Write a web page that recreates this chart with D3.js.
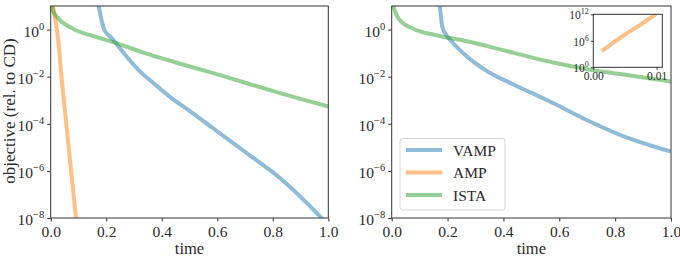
<!DOCTYPE html>
<html>
<head>
<meta charset="utf-8">
<script src="https://cdn.jsdelivr.net/npm/d3@7"></script>
<style>
  body { margin: 0; background: #fff; }
</style>
</head>
<body>
<div id="chart"></div>
<script>
// Data
const seriesNames = ['VAMP', 'AMP', 'ISTA'];
const seriesColors = ['#1f77b4', '#ff7f0e', '#2ca02c'];
const xTicks = [0, 0.2, 0.4, 0.6, 0.8, 1.0];
const yTicks = [1e-8, 1e-6, 1e-4, 1e-2, 1e0];

// left panel
const vampLeftT = [0.168, 0.193, 0.22, 0.268, 0.316, 0.376, 0.436, 0.5, 0.586, 0.707, 0.827, 0.971, 1.0];
const vampLeftV = [20, 0.977, 0.427, 0.0851, 0.0195, 4.68e-3, 1.2e-3, 3.55e-4, 6.3e-5, 5.6e-6, 4.9e-7, 1.15e-8, 5e-9];
const ampLeftT = [0.002, 0.009, 0.027, 0.04, 0.054, 0.091, 0.1];
const ampLeftV = [31.6, 9.5, 0.363, 7.2e-3, 1.74e-4, 1e-8, 1e-9];
const istaLeftT = [0, 0.004, 0.027, 0.076, 0.16, 0.22, 0.34, 0.466, 0.586, 0.707, 0.827, 1.0];
const istaLeftV = [12.6, 8.1, 3.0, 1.15, 0.5, 0.309, 0.1, 0.0355, 0.0141, 5.25e-3, 2.0e-3, 5.4e-4];

// right panel
const vampRightT = [0.17, 0.181, 0.191, 0.215, 0.262, 0.334, 0.43, 0.507, 0.579, 0.698, 0.817, 1.0];
const vampRightV = [20, 1.35, 0.708, 0.309, 0.0851, 0.0195, 5.0e-3, 1.9e-3, 7.4e-4, 1.45e-4, 3.4e-5, 6.6e-6];
const istaRightT = [0, 0.006, 0.024, 0.072, 0.155, 0.274, 0.394, 0.507, 0.579, 0.698, 0.817, 1.0];
const istaRightV = [15.8, 9.5, 3.0, 1.15, 0.589, 0.309, 0.138, 0.063, 0.0398, 0.0209, 0.0129, 6.2e-3];

// inset (AMP diverging, right panel)
const ampInsetT = [0.00133, 0.00316, 0.00528, 0.00738, 0.0099];
const ampInsetV = [4.9e3, 3.7e5, 5.0e7, 3.8e9, 1.15e12];
const insetXTicks = [0, 0.01];
const insetYTicks = [1e0, 1e6, 1e12];

const zip = (t, v) => t.map((d, i) => ({ t: d, v: v[i] }));

const font = '"Liberation Serif"';
const textColor = '#2a2a2a';
const frameColor = '#333';

const svg = d3.select('#chart').append('svg')
  .attr('width', 680)
  .attr('height', 261);

// "10" with a raised exponent
function powerLabel(text, d, supSize, supDy) {
  const e = Math.round(Math.log10(d));
  text.text(null);
  text.append('tspan').text('10');
  text.append('tspan')
    .attr('dy', supDy)
    .attr('font-size', supSize)
    .text(e < 0 ? `\u2212${-e}` : `${e}`);
}

function drawPanel(p) {
  const x = d3.scaleLinear([0, 1], [p.l, p.r]);
  const y = d3.scaleLog([1e-8, 1e1], [218, 6]);

  const g = svg.append('g');

  g.append('clipPath').attr('id', p.id)
    .append('rect')
    .attr('x', p.l).attr('y', 6)
    .attr('width', p.r - p.l).attr('height', 212);

  const line = d3.line()
    .x((d) => x(d.t))
    .y((d) => y(d.v))
    .curve(d3.curveMonotoneX);

  g.append('g')
    .attr('clip-path', `url(#${p.id})`)
    .selectAll('path')
    .data(p.series)
    .join('path')
    .attr('d', (d) => line(d.values))
    .attr('fill', 'none')
    .attr('stroke', (d) => d.color)
    .attr('stroke-opacity', 0.5)
    .attr('stroke-width', 4);

  // x axis
  const xAxis = g.append('g')
    .attr('transform', 'translate(0,218)')
    .call(d3.axisBottom(x).tickValues(xTicks).tickFormat(d3.format('.1f')).tickSize(3.5).tickPadding(3));
  xAxis.attr('font-size', 15.5);
  xAxis.select('.domain').remove();
  xAxis.selectAll('line').attr('stroke', frameColor);
  xAxis.selectAll('text').attr('fill', textColor).attr('dy', '0.78em');

  // y axis
  const yAxis = g.append('g')
    .attr('transform', `translate(${p.l},0)`)
    .call(d3.axisLeft(y).tickValues(yTicks).tickSize(3.5).tickPadding(3));
  yAxis.attr('font-size', 15.5);
  yAxis.select('.domain').remove();
  yAxis.selectAll('line').attr('stroke', frameColor);
  yAxis.selectAll('text')
    .attr('fill', textColor)
    .attr('dy', '0.42em')
    .each(function (d) { powerLabel(d3.select(this), d, 10.5, -7); });

  // frame
  g.append('rect')
    .attr('x', p.l).attr('y', 6)
    .attr('width', p.r - p.l).attr('height', 212)
    .attr('fill', 'none')
    .attr('stroke', frameColor)
    .attr('stroke-width', 1);

  // x-axis name
  g.append('text')
    .attr('x', (p.l + p.r) / 2)
    .attr('y', 254)
    .attr('text-anchor', 'middle')
    .attr('font-size', 16.5)
    .attr('fill', textColor)
    .text('time');

  return { x, y, g };
}

// left panel
drawPanel({
  id: 'clipL',
  l: 50.7,
  r: 328.3,
  series: [
    { name: seriesNames[0], color: seriesColors[0], values: zip(vampLeftT, vampLeftV) },
    { name: seriesNames[1], color: seriesColors[1], values: zip(ampLeftT, ampLeftV) },
    { name: seriesNames[2], color: seriesColors[2], values: zip(istaLeftT, istaLeftV) },
  ],
});

// y-axis name
svg.append('text')
  .attr('transform', 'translate(15,111)rotate(-90)')
  .attr('text-anchor', 'middle')
  .attr('font-size', 17)
  .attr('fill', textColor)
  .text('objective (rel. to CD)');

// right panel
drawPanel({
  id: 'clipR',
  l: 391.7,
  r: 671,
  series: [
    { name: seriesNames[0], color: seriesColors[0], values: zip(vampRightT, vampRightV) },
    { name: seriesNames[2], color: seriesColors[2], values: zip(istaRightT, istaRightV) },
  ],
});

// legend
const legend = svg.append('g');
legend.append('rect')
  .attr('x', 400).attr('y', 138.5)
  .attr('width', 105).attr('height', 71.5)
  .attr('rx', 3)
  .attr('fill', '#fff').attr('fill-opacity', 0.8)
  .attr('stroke', '#d5d5d5');

const legendRows = legend.selectAll('g.row')
  .data(seriesNames)
  .join('g')
  .attr('class', 'row')
  .attr('transform', (d, i) => `translate(0,${150 + i * 22.5})`);

legendRows.append('line')
  .attr('x1', 406).attr('x2', 442)
  .attr('stroke', (d, i) => seriesColors[i])
  .attr('stroke-opacity', 0.5)
  .attr('stroke-width', 4);

legendRows.append('text')
  .attr('x', 453)
  .attr('y', 5.5)
  .attr('font-size', 15.5)
  .attr('fill', textColor)
  .text((d) => d);

// inset
const ix = d3.scaleLinear([0, 0.0109], [593.3, 662.3]);
const iy = d3.scaleLog([1, 1e12], [67.3, 14.3]);
const inset = svg.append('g');

inset.append('rect')
  .attr('x', 593.3).attr('y', 14.3)
  .attr('width', 69).attr('height', 53)
  .attr('fill', '#fff');

inset.append('clipPath').attr('id', 'clipI')
  .append('rect')
  .attr('x', 593.3).attr('y', 14.3)
  .attr('width', 69).attr('height', 53);

inset.append('path')
  .datum(zip(ampInsetT, ampInsetV))
  .attr('clip-path', 'url(#clipI)')
  .attr('d', d3.line().x((d) => ix(d.t)).y((d) => iy(d.v)))
  .attr('fill', 'none')
  .attr('stroke', seriesColors[1])
  .attr('stroke-opacity', 0.5)
  .attr('stroke-width', 4);

const ixAxis = inset.append('g')
  .attr('transform', 'translate(0,67.3)')
  .call(d3.axisBottom(ix).tickValues(insetXTicks).tickFormat(d3.format('.2f')).tickSize(2.5).tickPadding(2));
ixAxis.attr('font-size', 11.5);
ixAxis.select('.domain').remove();
ixAxis.selectAll('line').attr('stroke', frameColor);
ixAxis.selectAll('text').attr('fill', textColor);

const iyAxis = inset.append('g')
  .attr('transform', 'translate(593.3,0)')
  .call(d3.axisLeft(iy).tickValues(insetYTicks).tickSize(2.5).tickPadding(2));
iyAxis.attr('font-size', 11.5);
iyAxis.select('.domain').remove();
iyAxis.selectAll('line').attr('stroke', frameColor);
iyAxis.selectAll('text')
  .attr('fill', textColor)
  .attr('dy', '0.4em')
  .each(function (d) { powerLabel(d3.select(this), d, 8, -5); });

inset.append('rect')
  .attr('x', 593.3).attr('y', 14.3)
  .attr('width', 69).attr('height', 53)
  .attr('fill', 'none')
  .attr('stroke', frameColor);

// serif font on every text, like the LaTeX-rendered original
svg.selectAll('text').attr('font-family', font);
</script>
</body>
</html>
